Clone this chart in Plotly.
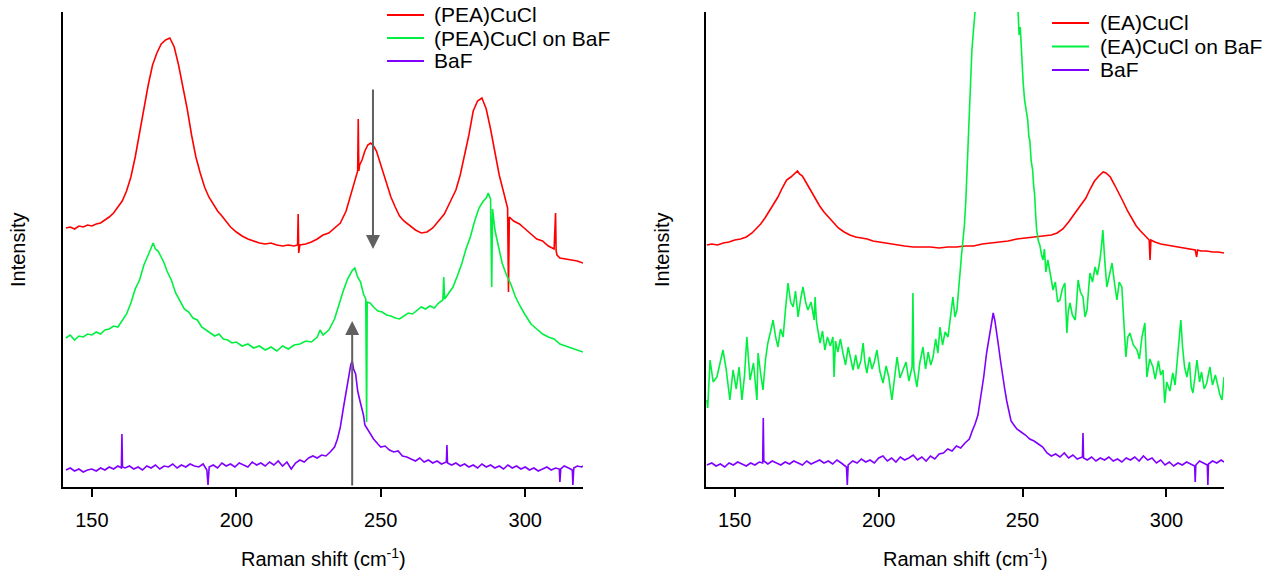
import plotly.graph_objects as go

# ---------------- Left panel data ----------------
pea_x = [141,142.5,144,145.5,147,148.5,150,151.5,153,154.5,156,157.5,159,160.5,162,163.5,165,166.5,168,169.5,171,172.5,174,175.5,177,178.5,180,181.5,183,184.5,186,187.5,189,190.5,192,193.5,195,196.5,198,200,202,204,206,208,210,212,214,216,218,220,221.2,221.4,221.6,222,224,226,228,230,232,234,236,238,240,241,242,242.2,242.4,242.7,243.5,244.5,245.5,246.5,247.5,248.5,249.5,250.5,252,253.5,255,256.5,258,260,262,264,266,268,270,272,274,276,277.5,279,280.5,282,283.5,285,286.5,288,289.5,291,292.5,293.6,293.9,294.2,294.5,296,298,300,302,304,306,308,310,310.5,310.7,311,312,314,316,318,320]
pea_y = [259,260,258,261,260,262,261,263,264,267,270,274,280,286,296,310,330,355,380,402,422,434,443,447,449,440,422,400,378,352,330,314,300,290,283,276,271,265,260,255,251,248,246,244,243,244,242,241,242,241,242,273,234,242,243,245,248,252,254,259,264,276,296,306,316,368,316,322,327,336,342,344,341,336,327,318,304,290,280,271,266,261,257,254,255,259,266,273,285,297,312,332,352,376,386,389,378,358,334,312,295,284,279,195,270,266,263,258,253,248,246,241,238,274,236,232,229,228,227,226,224]

peabaf_x = [141,142.5,144,145.5,147,148.5,150,151.5,153,154.5,156,157.5,159,160.5,162,163.5,165,166.5,168,169.5,170.5,171.2,172,172.9,174,175,176,177.5,179,180.5,182,183.5,185,186.5,188,189.5,191,192.5,194,195.5,197,198.5,200,202,204,206,208,210,212,214,216,218,220,222,224,226,228,229,230,232,234,235.5,237,238.5,240,241,242,243,244,244.8,245.1,245.3,246.3,247.5,249,250.5,252,253.5,255,256.5,258,259.5,261,262.5,264,265.5,267,268.5,270,271.5,271.8,272.1,273.5,275,276.5,278,279.5,281,282.5,284,285.5,286.5,287.2,288,288.4,288.7,289.5,291,292,293.5,295,296.5,298,300,302,304,306,308,310,312,314,316,318,320]
peabaf_y = [149,152,147,151,150,153,152,155,153,157,158,161,160,166,173,184,198,207,222,232,240,244,238,236,230,224,216,207,194,186,178,175,169,167,160,157,154,151,153,148,147,144,145,141,143,139,141,137,140,136,141,138,142,143,146,145,150,157,152,157,168,183,196,208,216,219,210,205,193,188,65,185,184,180,176,175,172,171,169,168,171,174,173,177,180,178,181,179,184,187,210,188,194,200,211,223,238,250,266,279,286,289,294,288,200,278,257,235,224,212,203,191,182,172,163,158,153,150,148,143,141,139,137,135]

baf_l_x = [141,142.5,144,145.5,147,148.5,150,151.5,153,154.5,156,157.5,159,160.2,160.4,160.6,161.5,163,164.5,166,167.5,169,170.5,172,173.5,175,176.5,178,179.5,181,182.5,184,185.5,187,188.5,189.8,190.2,190.6,192,193.5,195,196.5,198,199.5,201,202.5,204,205.5,207,208.5,210,211.5,213,214.5,216,217.5,219,220.5,222,223.5,225,226.5,228,229.5,231,232.5,234,235,236,237,238,239,239.6,240.1,240.6,241.3,242,242.8,243.5,244,244.5,245.5,246.3,247.5,249,250,251.5,253,254.5,256,257.5,259,260.5,262,263.5,265,266.5,268,269.5,271,272.7,272.9,273.1,274.5,276,277.5,279,280.5,282,283.5,285,286.5,288,289.5,291,292.5,294,295.5,297,298.5,300,301.5,303,304.5,306,307.5,309,310.5,311.8,312,312.3,313.5,315,316.3,316.5,316.8,318,319.5,320]
baf_l_y = [17,19,16,18,15,17,18,16,19,17,20,18,21,19,53,20,19,21,18,20,17,21,19,22,18,21,20,23,19,22,20,23,21,20,23,17,2,20,22,19,24,21,23,20,24,22,20,25,22,24,21,25,22,26,21,25,18,24,27,25,29,31,29,32,31,35,40,48,60,78,96,112,122,126,118,113,96,86,78,72,62,57,54,48,43,40,41,37,35,36,31,30,28,26,29,25,27,24,26,23,25,42,24,22,24,21,23,20,22,19,23,20,22,19,21,18,22,19,21,18,20,17,19,16,18,20,17,19,18,5,18,21,19,17,2,19,21,20,21]

# ---------------- Right panel data ----------------
ea_x = [140.3,142,144,146,148,150,152,154,156,157.5,159,160.5,162,163.5,165,166.5,168,169.5,171,171.8,172.5,173.5,174.5,175.5,176.5,178,179.5,181,182.5,184,186,188,190,192,194,196,198,200,203,206,209,212,215,218,221,224,227,230,233,236,239,242,245,248,251,254,257,260,262,264,266,267.5,269,270.5,272,273.5,275,276.5,278,279,280.5,282,283.5,285,286.5,288,289.5,291,292.5,294,294.3,294.6,296,298,300,302,304,306,308,310,310.5,310.8,312,314,316,318,320]
ea_y = [242,243,242,244,245,247,248,250,254,258,263,269,276,282,290,299,307,310,314,316,313,311,306,301,295,288,281,275,270,265,259,255,252,250,249,248,246,245,244,242,241,240,240,240,239,240,240,241,241,243,244,245,246,248,249,250,251,252,254,258,265,271,276,282,289,298,306,311,315,314,310,302,294,285,276,268,261,256,251,247,227,247,245,243,242,241,240,239,238,237,230,237,236,236,235,235,234]

eabaf_x = [140.3,140.6,141.4,142.5,143.8,145,145.9,147,148.3,149.4,150.5,151.5,152.5,153.4,154.2,155.3,156.5,157.7,158.1,159,159.8,160.7,161.5,162.4,163.3,164.2,165,165.9,166.8,167.7,168.5,169.4,170.3,171.1,172,172.9,173.7,174.6,175.4,176.5,177.6,177.9,178.4,179.6,180.5,181.3,182.2,183.2,184.1,184.5,185,185.8,186.7,187.6,188.5,189.4,190.3,191.1,192,192.9,193.8,194.6,195.2,195.9,196.8,197.7,198.5,199.4,200.4,201.5,202.6,203.5,204.6,205.5,206.4,207.4,208.5,209.5,210.5,211.6,211.9,212.2,213.3,214.3,215.4,216.3,217.2,218.1,218.9,219.8,220.6,221.3,222.2,223.1,224.1,224.9,225.8,226.5,227.2,227.8,228.3,228.8,229.3,229.8,230.3,230.6,231,231.4,231.7,232.1,232.4,232.9,233.5,235,237,240,243,246,248.4,248.8,249.2,249.7,250.2,250.7,251.3,251.8,252.2,252.5,253,253.5,253.9,254.2,254.6,254.9,255.5,256,256.6,257.1,257.6,258.1,258.8,259.7,260.6,261.4,262.2,263,263.8,264.7,265.1,265.4,265.9,266.5,267.3,268.3,268.8,269.3,270.1,271,271.7,272.4,272.9,273.4,274.3,275.2,276,276.9,277.4,277.9,278.6,279.3,280.2,281.1,281.9,282.8,283.6,284.5,285.2,285.9,286.6,287.3,288.5,289.8,290.6,291.5,292.5,292.9,293.2,294.2,295.3,296.1,297.2,298,298.8,299.4,300.1,301.2,302.2,303,303.9,304.5,305,305.6,306.3,307.1,308,308.6,309.2,310,310.6,311.5,312.2,313.1,314,315.1,316,317,317.9,318.6,319.3,320]
eabaf_y = [87,79,127,105,110,125,137,118,87,117,98,120,87,112,150,107,124,87,134,113,97,128,144,155,167,150,140,158,150,180,204,185,180,196,170,188,200,185,177,185,167,190,165,144,156,137,150,141,150,110,146,135,148,134,122,140,128,117,132,118,126,144,125,114,130,118,125,137,116,104,121,110,87,112,130,109,117,125,106,120,194,118,100,124,140,118,135,122,130,148,134,160,142,155,150,168,190,170,177,198,220,232,247,262,287,310,347,372,397,422,437,455,478,560,640,700,680,580,478,452,460,427,405,387,378,367,350,347,326,317,300,292,270,257,246,242,232,227,238,215,227,210,197,205,185,187,198,204,175,154,176,184,172,167,185,207,195,190,170,177,196,214,205,220,212,227,240,257,225,200,212,224,205,187,205,200,165,130,150,154,142,137,128,150,164,120,110,128,120,108,126,112,117,84,105,96,114,102,130,150,167,140,120,110,125,100,94,112,127,105,115,98,104,120,102,112,100,92,87,110]

baf_r_x = [140.3,142,143.5,145,146.5,148,149.5,151,152.5,154,155.5,157,158.5,159.7,159.9,160.1,161.5,163,164.5,166,167.5,169,170.5,172,173.5,175,176.5,178,179.5,181,182.5,184,185.5,187,188.8,189.1,189.4,191,192.5,194,195.5,197,198.5,200,201.5,203,204.5,206,207.5,209,210.5,212,213.5,215,216.5,218,219.5,221,222.5,224,225.5,227,228.5,230,231.5,232.5,233.5,234.5,235.5,236.5,237.5,238.5,239.3,239.8,240.4,241,241.7,242.3,243,243.8,244.5,245.3,246,247,248,249.5,251,252.5,254,255.5,257,258.5,260,261.5,263,264.5,266,267.5,269,270.8,271.0,271.2,272.5,274,275.5,277,278.5,280,281.5,283,284.5,286,287.5,289,290.5,292,293.5,295,296.5,298,299.5,301,302.5,304,305.5,307,308.5,309.8,310.0,310.2,311.5,313,314.2,314.4,314.6,316,317.5,319,320]
baf_r_y = [22,24,21,23,20,24,22,25,23,21,24,22,25,24,69,26,23,26,24,22,25,23,26,24,22,26,23,25,27,24,26,23,27,24,20,2,22,26,24,28,25,27,24,29,31,26,29,25,30,27,29,32,27,30,26,31,28,33,34,38,36,41,39,44,48,56,63,72,90,110,134,152,168,174,166,156,140,127,112,98,86,76,66,62,58,55,52,48,46,43,40,34,31,33,30,34,29,32,28,30,54,29,27,30,26,29,27,30,26,28,25,29,27,30,26,31,27,29,24,27,22,25,21,24,22,25,23,21,5,22,26,24,22,2,23,26,24,27,25]

left_names = ["(PEA)CuCl", "(PEA)CuCl on BaF", "BaF"]
right_names = ["(EA)CuCl", "(EA)CuCl on BaF", "BaF"]

tick_vals = [150, 200, 250, 300]
tick_text = ["150", "200", "250", "300"]
x_range = [140, 320]
y_range = [0, 475]

# arrows (data coordinates)
arrow_down = dict(x=247.3, y_from=399, y_to=238)
arrow_up = dict(x=240.1, y_from=0, y_to=166)

RED = "#ff0000"
GREEN = "#00f040"
PURPLE = "#7f00ff"
COLORS = [RED, GREEN, PURPLE]
FONT = "Liberation Sans, Arial, sans-serif"

W, H = 1265, 573
def px(v):
    return v / W
def py(v):
    return 1 - v / H

fig = go.Figure()
lw = 1.6
left_series = [(pea_x, pea_y), (peabaf_x, peabaf_y), (baf_l_x, baf_l_y)]
right_series = [(ea_x, ea_y), (eabaf_x, eabaf_y), (baf_r_x, baf_r_y)]
for (xs, ys), name, col in zip(left_series, left_names, COLORS):
    fig.add_trace(go.Scatter(x=xs, y=ys, mode="lines", name=name, showlegend=False,
                             line=dict(color=col, width=lw), xaxis="x", yaxis="y"))
for (xs, ys), name, col in zip(right_series, right_names, COLORS):
    fig.add_trace(go.Scatter(x=xs, y=ys, mode="lines", name=name, showlegend=False,
                             line=dict(color=col, width=lw), xaxis="x2", yaxis="y2"))

xa = dict(range=x_range, tickmode="array", tickvals=tick_vals, ticktext=tick_text,
          ticks="outside", ticklen=8, tickwidth=1.5, tickcolor="#000",
          showline=True, linecolor="#000", linewidth=2, showgrid=False, zeroline=False,
          tickfont=dict(family=FONT, size=20, color="#000"), ticklabelstandoff=6)
ya = dict(range=y_range, showticklabels=False, ticks="", showline=True, linecolor="#000",
          linewidth=2, showgrid=False, zeroline=False)

fig.update_layout(
    width=W, height=H,
    margin=dict(l=0, r=0, t=0, b=0),
    paper_bgcolor="white", plot_bgcolor="white",
    xaxis=dict(domain=[px(63), px(583)], anchor="y", **xa),
    yaxis=dict(domain=[py(487), py(12)], anchor="x", **ya),
    xaxis2=dict(domain=[px(706), px(1224)], anchor="y2", **xa),
    yaxis2=dict(domain=[py(487), py(12)], anchor="x2", **ya),
    showlegend=False,
)

annotations = []
shapes = []
for cx in (323, 965):
    annotations.append(dict(x=px(cx), y=py(557), xref="paper", yref="paper",
                            text="Raman shift (cm<sup>-1</sup>)", showarrow=False,
                            font=dict(family=FONT, size=20, color="#000"),
                            xanchor="center", yanchor="middle"))
for cx in (18, 662):
    annotations.append(dict(x=px(cx), y=py(250), xref="paper", yref="paper",
                            text="Intensity", showarrow=False, textangle=-90,
                            font=dict(family=FONT, size=20, color="#000"),
                            xanchor="center", yanchor="middle"))
for a in (arrow_down, arrow_up):
    annotations.append(dict(x=a["x"], y=a["y_to"], ax=a["x"], ay=a["y_from"],
                            xref="x", yref="y", axref="x", ayref="y", text="",
                            showarrow=True, arrowhead=2, arrowsize=1.4, arrowwidth=2,
                            arrowcolor="#606060"))

# manual legends (built from series names and colours)
legend_specs = [
    (left_names, 387, 424, 432, [15, 38, 61]),
    (right_names, 1052, 1089, 1098, [23, 46.5, 70]),
]
for names, lx0, lx1, tx, rows in legend_specs:
    for name, col, ry in zip(names, COLORS, rows):
        shapes.append(dict(type="line", xref="paper", yref="paper",
                           x0=px(lx0), x1=px(lx1), y0=py(ry), y1=py(ry),
                           line=dict(color=col, width=2)))
        annotations.append(dict(x=px(tx), y=py(ry), xref="paper", yref="paper",
                                text=name, showarrow=False, xanchor="left", yanchor="middle",
                                font=dict(family=FONT, size=21, color="#000")))

fig.update_layout(annotations=annotations, shapes=shapes)

fig.write_html("out.html")
